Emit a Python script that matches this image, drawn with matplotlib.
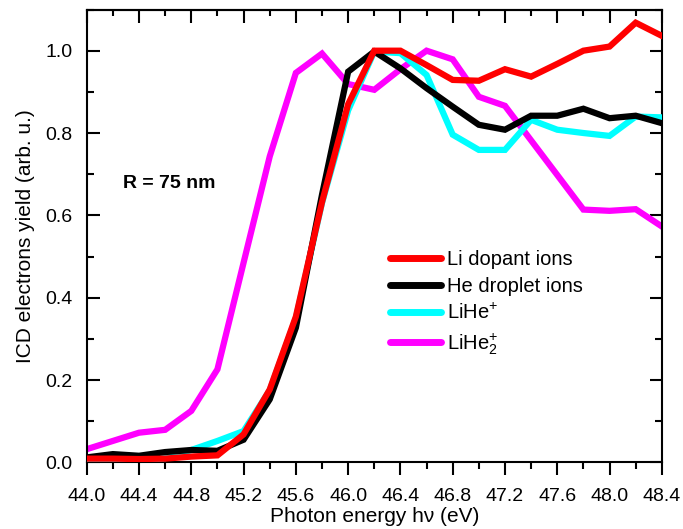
import matplotlib
matplotlib.use("Agg")
import matplotlib.pyplot as plt
from matplotlib.ticker import MultipleLocator

plt.rcParams['font.family'] = ['Liberation Sans', 'DejaVu Sans']
plt.rcParams['mathtext.fontset'] = 'custom'
plt.rcParams['mathtext.rm'] = 'Liberation Sans'
plt.rcParams['mathtext.it'] = 'Liberation Sans:italic'
plt.rcParams['mathtext.bf'] = 'Liberation Sans:bold'

energy = [44.0, 44.2, 44.4, 44.6, 44.8, 45.0, 45.2, 45.4, 45.6, 45.8, 46.0, 46.2,
          46.4, 46.6, 46.8, 47.0, 47.2, 47.4, 47.6, 47.8, 48.0, 48.2, 48.4]

li_dopant = [0.009, 0.009, 0.008, 0.009, 0.014, 0.017, 0.068, 0.177, 0.354, 0.632, 0.870, 1.000,
             1.000, 0.965, 0.929, 0.927, 0.955, 0.937, 0.968, 1.000, 1.010, 1.068, 1.036]
he_droplet = [0.012, 0.020, 0.016, 0.025, 0.030, 0.028, 0.055, 0.153, 0.327, 0.650, 0.949, 0.998,
              0.957, 0.909, 0.864, 0.820, 0.808, 0.842, 0.842, 0.859, 0.836, 0.842, 0.824]
lihe = [0.004, 0.004, 0.004, 0.010, 0.030, 0.052, 0.076, 0.175, 0.350, 0.630, 0.855, 0.998,
        0.994, 0.941, 0.796, 0.759, 0.759, 0.832, 0.808, 0.800, 0.793, 0.840, 0.838]
lihe2 = [0.032, 0.052, 0.072, 0.079, 0.125, 0.226, 0.485, 0.743, 0.946, 0.993, 0.919, 0.905,
         0.955, 1.000, 0.979, 0.888, 0.866, 0.782, 0.698, 0.614, 0.611, 0.615, 0.573]

labels = ['Li dopant ions', 'He droplet ions', 'LiHe$^{+}$', 'LiHe$_{2}^{+}$']
colors = ['#FF0000', '#000000', '#00FFFF', '#FF00FF']
xticks = [44.0, 44.4, 44.8, 45.2, 45.6, 46.0, 46.4, 46.8, 47.2, 47.6, 48.0, 48.4]
yticks = [0.0, 0.2, 0.4, 0.6, 0.8, 1.0]

fig = plt.figure(figsize=(6.83, 5.29), dpi=100)
ax = fig.add_axes([0.127, 0.126, 0.842, 0.856])

series = [li_dopant, he_droplet, lihe, lihe2]
zorders = [5, 4, 3, 2]
for ys, lab, c, z in zip(series, labels, colors, zorders):
    ax.plot(energy, ys, color=c, lw=4.5, label=lab, zorder=z, solid_joinstyle='miter')

ax.set_xlim(44.0, 48.4)
ax.set_ylim(0.0, 1.1)
ax.set_xticks(xticks)
ax.set_xticklabels([f"{t:.1f}" for t in xticks])
ax.set_yticks(yticks)
ax.set_yticklabels([f"{t:.1f}" for t in yticks])
ax.xaxis.set_minor_locator(MultipleLocator(0.2))
ax.yaxis.set_minor_locator(MultipleLocator(0.1))

for s in ax.spines.values():
    s.set_linewidth(1.5)

ax.tick_params(axis='x', which='both', direction='out', top=False, labelsize=14, pad=9.5)
ax.tick_params(axis='y', which='both', direction='in', right=True, labelsize=14, pad=10.5)
ax.tick_params(which='major', length=9, width=1.5)
ax.tick_params(which='minor', length=5, width=1.5)

# top axis with inward ticks
axt = ax.secondary_xaxis('top')
axt.set_xticks(xticks)
axt.xaxis.set_minor_locator(MultipleLocator(0.2))
axt.tick_params(which='both', direction='in', labeltop=False)
axt.tick_params(which='major', length=9, width=1.5)
axt.tick_params(which='minor', length=4.5, width=1.5)
axt.spines['top'].set_linewidth(1.5)

ax.set_xlabel('Photon energy h\u03bd (eV)', fontsize=15, labelpad=1.5)
ax.set_ylabel('ICD electrons yield (arb. u.)', fontsize=15, labelpad=7)

ax.text(0.063, 0.615, 'R = 75 nm', transform=ax.transAxes, fontsize=14,
        fontweight='bold', va='center', ha='left')

leg = ax.legend(loc='upper left', bbox_to_anchor=(0.528, 0.469), frameon=False,
                fontsize=14.5, handlelength=2.5, handletextpad=0.3,
                labelspacing=0.38, borderpad=0, borderaxespad=0)
for line in leg.get_lines():
    line.set_linewidth(5)
    line.set_solid_capstyle('round')

fig.savefig('out.png', dpi=100)
